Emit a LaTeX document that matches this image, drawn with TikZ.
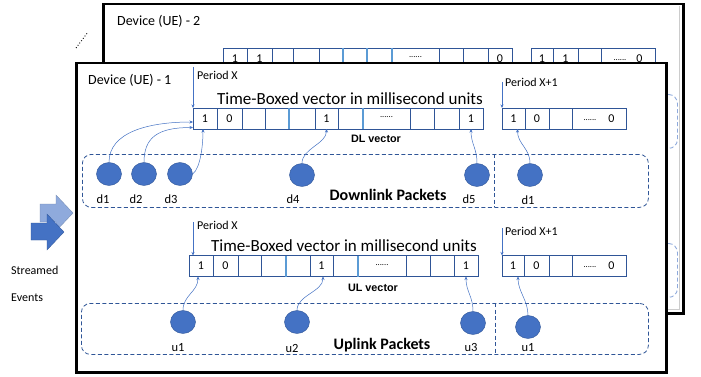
\documentclass[tikz,border=0pt]{standalone}
\usepackage{fontspec}
\setmainfont{Carlito}
\newfontfamily\arialfont{Liberation Sans}
\usetikzlibrary{shapes.geometric,arrows.meta,calc}
\definecolor{cellc}{HTML}{2F5597}
\definecolor{celll}{HTML}{5B9BD5}
\definecolor{pktc}{HTML}{4472C4}
\definecolor{dashc}{HTML}{2F5597}
\definecolor{lightarr}{HTML}{8FAADC}
\definecolor{backdash}{HTML}{8FAADC}
\tikzset{
  cell/.style={draw=cellc, line width=0.8pt, inner sep=0pt, outer sep=0pt, minimum height=21pt, font=\fontsize{12}{12}\selectfont},
  pkt/.style={ellipse, fill=pktc, draw=cellc, line width=0.4pt, minimum width=25pt, minimum height=23pt, inner sep=0pt},
  pktlab/.style={font=\fontsize{12.5}{13}\selectfont, inner sep=0pt},
  dbox/.style={draw=dashc, line width=0.8pt, dash pattern=on 4pt off 2.5pt, rounded corners=9pt},
  bdbox/.style={draw=backdash, line width=0.9pt, dash pattern=on 4pt off 2.5pt, rounded corners=9pt},
  conn/.style={draw=pktc, line width=0.5pt, -{Stealth[length=3.5pt,width=3pt]}},
  perarrow/.style={draw=pktc, line width=0.9pt, -{Stealth[length=3.5pt,width=3pt]}},
  perlab/.style={font=\fontsize{12}{12}\selectfont, anchor=west, inner sep=0pt},
  title/.style={font=\fontsize{17}{17}\selectfont, inner sep=0pt},
  vlab/.style={font=\arialfont\bfseries\fontsize{10.8}{11}\selectfont, inner sep=0pt},
  pkttitle/.style={font=\bfseries\fontsize{16}{16}\selectfont, inner sep=0pt},
  devlab/.style={font=\fontsize{14}{14}\selectfont, anchor=west, inner sep=0pt},
  dev/.style={draw=black, line width=2.5pt, fill=white}
}
\newcommand{\smdots}{\raisebox{2pt}{\fontsize{8.5}{8.5}\selectfont......}}
\begin{document}
\begin{tikzpicture}[x=1pt,y=-1pt]
\useasboundingbox (0,0) rectangle (701,377);
\fill[white] (0,0) rectangle (701,377);

% ---------- Device 2 (back) ----------
\node[dev, minimum width=580pt, minimum height=309pt, anchor=north west, inner sep=0pt] (dev2) at (102,3) {};
\draw[gray!40, line width=0.8pt] (679.5,6) -- (679.5,309.5) -- (105,309.5);
\node[devlab] (dev2lab) at (117,21) {Device (UE) - 2};
\draw[dotted, line width=0.9pt] (76,48) -- (88,32);
\foreach \a/\b/\t [count=\i] in {223/247/1,247/272/1,272/293/{},293/319/{},319/343/{},343/367/{},367/392/{},392/439/{\smdots},439/463/{},463/488/{},488/512/0}{
  \pgfmathsetmacro\w{\b-\a}
  \pgfmathsetmacro\cx{(\a+\b)/2}
  \node[cell, minimum width=\w pt] (bl\i) at (\cx,58.5) {\t};
}
\foreach \a/\b/\t [count=\i] in {531/553/1,553/578/1,578/601/{},601/655/{\smdots\hspace{10pt}0}}{
  \pgfmathsetmacro\w{\b-\a}
  \pgfmathsetmacro\cx{(\a+\b)/2}
  \node[cell, minimum width=\w pt] (br\i) at (\cx,58.5) {\t};
}
\draw[celll, line width=1.3pt] (bl6.north west) -- (bl6.south west);
\draw[celll, line width=1.3pt] (bl7.north west) -- (bl7.south west);
\draw[celll, line width=1.3pt] (bl8.north west) -- (bl8.south west);
\node[bdbox, minimum width=567pt, minimum height=54pt, anchor=north west] (bdl) at (110,94) {};
\node[bdbox, minimum width=567pt, minimum height=54pt, anchor=north west] (bul) at (110,243) {};

% ---------- Device 1 (front) ----------
\node[dev, minimum width=590pt, minimum height=309pt, anchor=north west, inner sep=0pt] (dev1) at (75,62) {};
\node[devlab] (dev1lab) at (88,80) {Device (UE) - 1};

% DL vectors
\node[title] (dltitle) at (350,99) {Time-Boxed vector in millisecond units};
\foreach \a/\b/\t [count=\i] in {193/217/1,217/242/0,242/265/{},265/289/{},289/315/{},315/338/1,338/363/{},363/410/{\smdots},410/434/{},434/459/{},459/483/1}{
  \pgfmathsetmacro\w{\b-\a}
  \pgfmathsetmacro\cx{(\a+\b)/2}
  \node[cell, minimum width=\w pt] (dl\i) at (\cx,118.5) {\t};
}
\draw[celll, line width=1.3pt] (dl5.north west) -- (dl5.south west);
\draw[celll, line width=1.3pt] (dl8.north west) -- (dl8.south west);
\foreach \a/\b/\t [count=\i] in {502/525/1,525/549/0,549/572/{},572/626/{\smdots\hspace{12pt}0}}{
  \pgfmathsetmacro\w{\b-\a}
  \pgfmathsetmacro\cx{(\a+\b)/2}
  \node[cell, minimum width=\w pt] (dr\i) at (\cx,118.5) {\t};
}
\node[vlab] (dlvec) at (376,139) {DL vector};
\coordinate (pxa) at (193,67);
\draw[perarrow] (pxa) -- (dl1.north west);
\node[perlab] (pxalab) at (197,75) {Period X};
\coordinate (pxb) at (502,82);
\draw[perarrow] (pxb) -- (dr1.north west);
\node[perlab] (pxblab) at (505,82) {Period X+1};

% DL packets
\node[dbox, minimum width=566pt, minimum height=53pt, anchor=north west] (dlbox) at (82,154) {};
\coordinate (dldivt) at (494,154);
\coordinate (dldivb) at (494,207);
\draw[draw=dashc, line width=0.8pt, dash pattern=on 4pt off 2.5pt] (dldivt) -- (dldivb);
\node[pkt] (d1) at (109,174) {};
\node[pkt] (d2) at (144,174) {};
\node[pkt] (d3) at (180,174) {};
\node[pkt] (d4) at (302,175) {};
\node[pkt] (d5) at (477,175) {};
\node[pkt] (d1r) at (530,175) {};
\node[pktlab] (d1lab) at (103,199) {d1};
\node[pktlab] (d2lab) at (136,199) {d2};
\node[pktlab] (d3lab) at (171,199) {d3};
\node[pktlab] (d4lab) at (293,199) {d4};
\node[pktlab] (d5lab) at (469,199) {d5};
\node[pktlab] (d1rlab) at (528,200) {d1};
\node[pkttitle] (dltxt) at (388,195) {Downlink Packets};
\draw[conn] (d1.north) .. controls +(0,-30) and +(-45,0) .. ($(dl1.west)+(0,3.5)$);
\draw[conn] (d2.north) .. controls +(0,-25) and +(-35,0) .. ($(dl1.south west)+(0,-1.5)$);
\draw[conn] (d3.east) .. controls +(8,-6) and +(0,15) .. ($(dl1.south)+(-2,0)$);
\draw[conn] (d4.north) .. controls +(0,-15) and +(0,15) .. (dl6.south);
\draw[conn] (d5.north) .. controls +(0,-15) and +(0,15) .. (dl11.south);
\draw[conn] (d1r.north) .. controls +(0,-15) and +(0,15) .. ($(dr1.south)+(4,0)$);

% UL vectors
\node[title] (ultitle) at (344,246) {Time-Boxed vector in millisecond units};
\foreach \a/\b/\t [count=\i] in {189/213/1,213/238/0,238/261/{},261/286/{},286/310/{},310/333/1,333/358/{},358/406/{\smdots},406/430/{},430/454/{},454/478/1}{
  \pgfmathsetmacro\w{\b-\a}
  \pgfmathsetmacro\cx{(\a+\b)/2}
  \node[cell, minimum width=\w pt] (ul\i) at (\cx,266) {\t};
}
\draw[celll, line width=1.3pt] (ul5.north west) -- (ul5.south west);
\draw[celll, line width=1.3pt] (ul8.north west) -- (ul8.south west);
\foreach \a/\b/\t [count=\i] in {502/524/1,524/549/0,549/572/{},572/626/{\smdots\hspace{12pt}0}}{
  \pgfmathsetmacro\w{\b-\a}
  \pgfmathsetmacro\cx{(\a+\b)/2}
  \node[cell, minimum width=\w pt] (ur\i) at (\cx,266) {\t};
}
\node[vlab] (ulvec) at (373,288) {UL vector};
\coordinate (pxc) at (193,222);
\draw[perarrow] (pxc) -- ($(ul1.north west)+(4,0)$);
\node[perlab] (pxclab) at (197,225) {Period X};
\coordinate (pxd) at (502,228);
\draw[perarrow] (pxd) -- (ur1.north west);
\node[perlab] (pxdlab) at (505,231) {Period X+1};

% UL packets
\node[dbox, minimum width=567pt, minimum height=51pt, anchor=north west] (ulbox) at (81,303) {};
\coordinate (uldivt) at (495,303);
\coordinate (uldivb) at (495,354);
\draw[draw=dashc, line width=0.8pt, dash pattern=on 4pt off 2.5pt] (uldivt) -- (uldivb);
\node[pkt] (u1) at (183,322) {};
\node[pkt] (u2) at (297,322) {};
\node[pkt] (u3) at (473,323) {};
\node[pkt] (u1r) at (528,327) {};
\node[pktlab] (u1lab) at (178,348) {u1};
\node[pktlab] (u2lab) at (292,348) {u2};
\node[pktlab] (u3lab) at (471,347) {u3};
\node[pktlab] (u1rlab) at (528,348) {u1};
\node[pkttitle] (ultxt) at (382,345) {Uplink Packets};
\draw[conn] (u1.north) .. controls +(0,-15) and +(0,15) .. ($(ul1.south)+(-3,0)$);
\draw[conn] (u2.north) .. controls +(0,-15) and +(0,15) .. ($(ul6.south)+(1.5,0)$);
\draw[conn] (u3.north) .. controls +(0,-15) and +(0,15) .. (ul11.south);
\draw[conn] (u1r.north) .. controls +(0,-15) and +(0,15) .. ($(ur1.south)+(5,0)$);

% Streamed events
\fill[lightarr, draw=lightarr!80!black, line width=0.3pt] (40,204) -- (56,204) -- (56,195) -- (73,213) -- (56,231) -- (56,222) -- (40,222) -- cycle;
\fill[pktc, draw=cellc, line width=0.3pt] (31,223) -- (47,223) -- (47,214) -- (64,232) -- (47,250) -- (47,240) -- (31,240) -- cycle;
\node[font=\fontsize{12}{12}\selectfont, anchor=west, inner sep=0pt] (stream) at (11,270) {Streamed};
\node[font=\fontsize{12}{12}\selectfont, anchor=west, inner sep=0pt] (events) at (11,298) {Events};
\end{tikzpicture}
\end{document}
